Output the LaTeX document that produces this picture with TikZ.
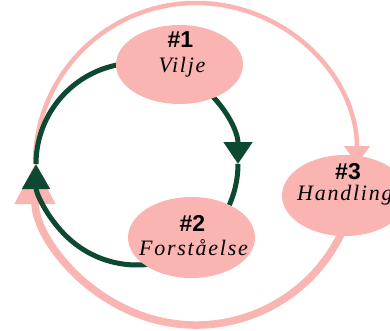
\documentclass[tikz,border=0pt]{standalone}
\usepackage{fontspec}
\newfontfamily\numfont{Liberation Sans}
\newfontfamily\wordfont{Liberation Serif}[LetterSpace=8]
\usetikzlibrary{arrows.meta,shapes.geometric}
\definecolor{pinkc}{RGB}{250,180,178}
\definecolor{greenc}{RGB}{13,72,48}
\begin{document}
\begin{tikzpicture}[x=1pt,y=1pt,
  bubble/.style={ellipse, fill=pinkc, inner sep=0pt, minimum width=127pt, minimum height=80pt},
  numtext/.style={font=\numfont\bfseries\fontsize{23}{23}\selectfont, inner sep=0pt, anchor=base},
  wordtext/.style={font=\wordfont\itshape\fontsize{22}{22}\selectfont, inner sep=0pt, anchor=base},
  greenarc/.style={draw=greenc, line width=5pt},
  pinkthin/.style={draw=pinkc, line width=4.5pt},
  pinkthick/.style={draw=pinkc, line width=7.5pt}]
\clip (0,0) rectangle (390,330);
\fill[white] (0,0) rectangle (390,330);
\coordinate (gc) at (137,166);
\coordinate (pc) at (196,166);
% pink outer cycle
\draw[pinkthick, -{Triangle[length=40pt,width=39pt]}] (pc) ++(-15:161pt) arc[start angle=-15, end angle=-180, radius=161pt];
\draw[pinkthin, -{Triangle[length=18pt,width=25pt]}] (pc) ++(180:161pt) arc[start angle=180, end angle=0, radius=161pt];
% green inner cycle
\draw[greenarc, -{Triangle[length=22pt,width=28pt]}] (gc) ++(60:101pt) arc[start angle=60, end angle=0, radius=101pt];
\draw[greenarc] (gc) ++(0:101pt) arc[start angle=0, end angle=-40, radius=101pt];
\draw[greenarc, -{Triangle[length=25pt,width=27pt]}] (gc) ++(-70:101pt) arc[start angle=-70, end angle=-180, radius=101pt];
\draw[greenarc] (gc) ++(180:101pt) arc[start angle=180, end angle=90, radius=101pt];
% bubbles
\node[bubble, minimum height=79pt] (e1) at (179.5,265.5) {};
\node[bubble, minimum height=81pt] (e2) at (191.5,92.5) {};
\node[bubble, minimum width=126pt, minimum height=81pt] (e3) at (345,134.5) {};
% texts
\node[numtext] (n1) at (180.5,282) {\#1};
\node[wordtext] (w1) at (182,258) {Vilje};
\node[numtext] (n2) at (192.5,99) {\#2};
\node[wordtext] (w2) at (193.5,75) {Forståelse};
\node[numtext] (n3) at (348,151) {\#3};
\node[wordtext, anchor=base west] (w3) at (297,130) {Handling};
\end{tikzpicture}
\end{document}
